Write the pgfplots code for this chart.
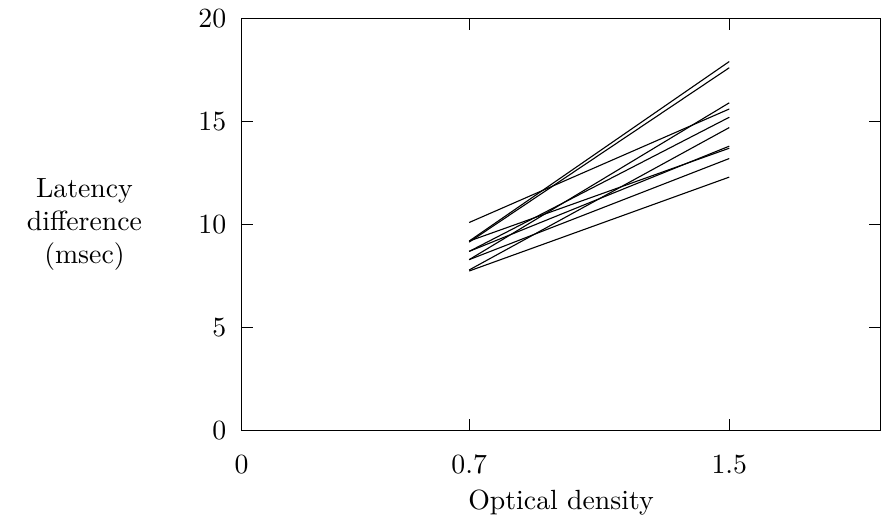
\documentclass[border=0pt]{standalone}
\usepackage{pgfplots}
\pgfplotsset{compat=1.18}

\begin{document}
\begin{tikzpicture}
  \begin{axis}[
    scale only axis,
    width=230pt, height=148.6pt,
    xmin=0, xmax=1.965,
    ymin=0, ymax=20,
    xtick={0,0.7,1.5},
    xticklabels={0,0.7,1.5},
    ytick={0,5,10,15,20},
    tick style={black, thin},
    xticklabel style={yshift=-5pt},
    yticklabel style={xshift=-2pt},
    xlabel={Optical density},
    xlabel style={yshift=1pt},
    ylabel={Latency\\difference\\(msec)},
    ylabel style={at={(axis description cs:-0.246,0.5)}, anchor=center,
                  rotate=-90, align=center},
    cycle list={{black, thin, solid}},
  ]
  % one line per subject: (0.7, low) -> (1.5, high)
  \addplot coordinates {(0.7,10.1) (1.5,15.6)};
  \addplot coordinates {(0.7,9.2) (1.5,17.9)};
  \addplot coordinates {(0.7,9.15) (1.5,17.6)};
  \addplot coordinates {(0.7,9.2) (1.5,13.7)};
  \addplot coordinates {(0.7,8.7) (1.5,15.2)};
  \addplot coordinates {(0.7,8.7) (1.5,13.8)};
  \addplot coordinates {(0.7,8.3) (1.5,15.9)};
  \addplot coordinates {(0.7,8.3) (1.5,13.2)};
  \addplot coordinates {(0.7,7.8) (1.5,14.7)};
  \addplot coordinates {(0.7,7.75) (1.5,12.3)};
  \end{axis}
  % keep the white margin left of the y label
  \path (current axis.south west) ++(-87pt,0pt) coordinate (lm);
\end{tikzpicture}
\end{document}
